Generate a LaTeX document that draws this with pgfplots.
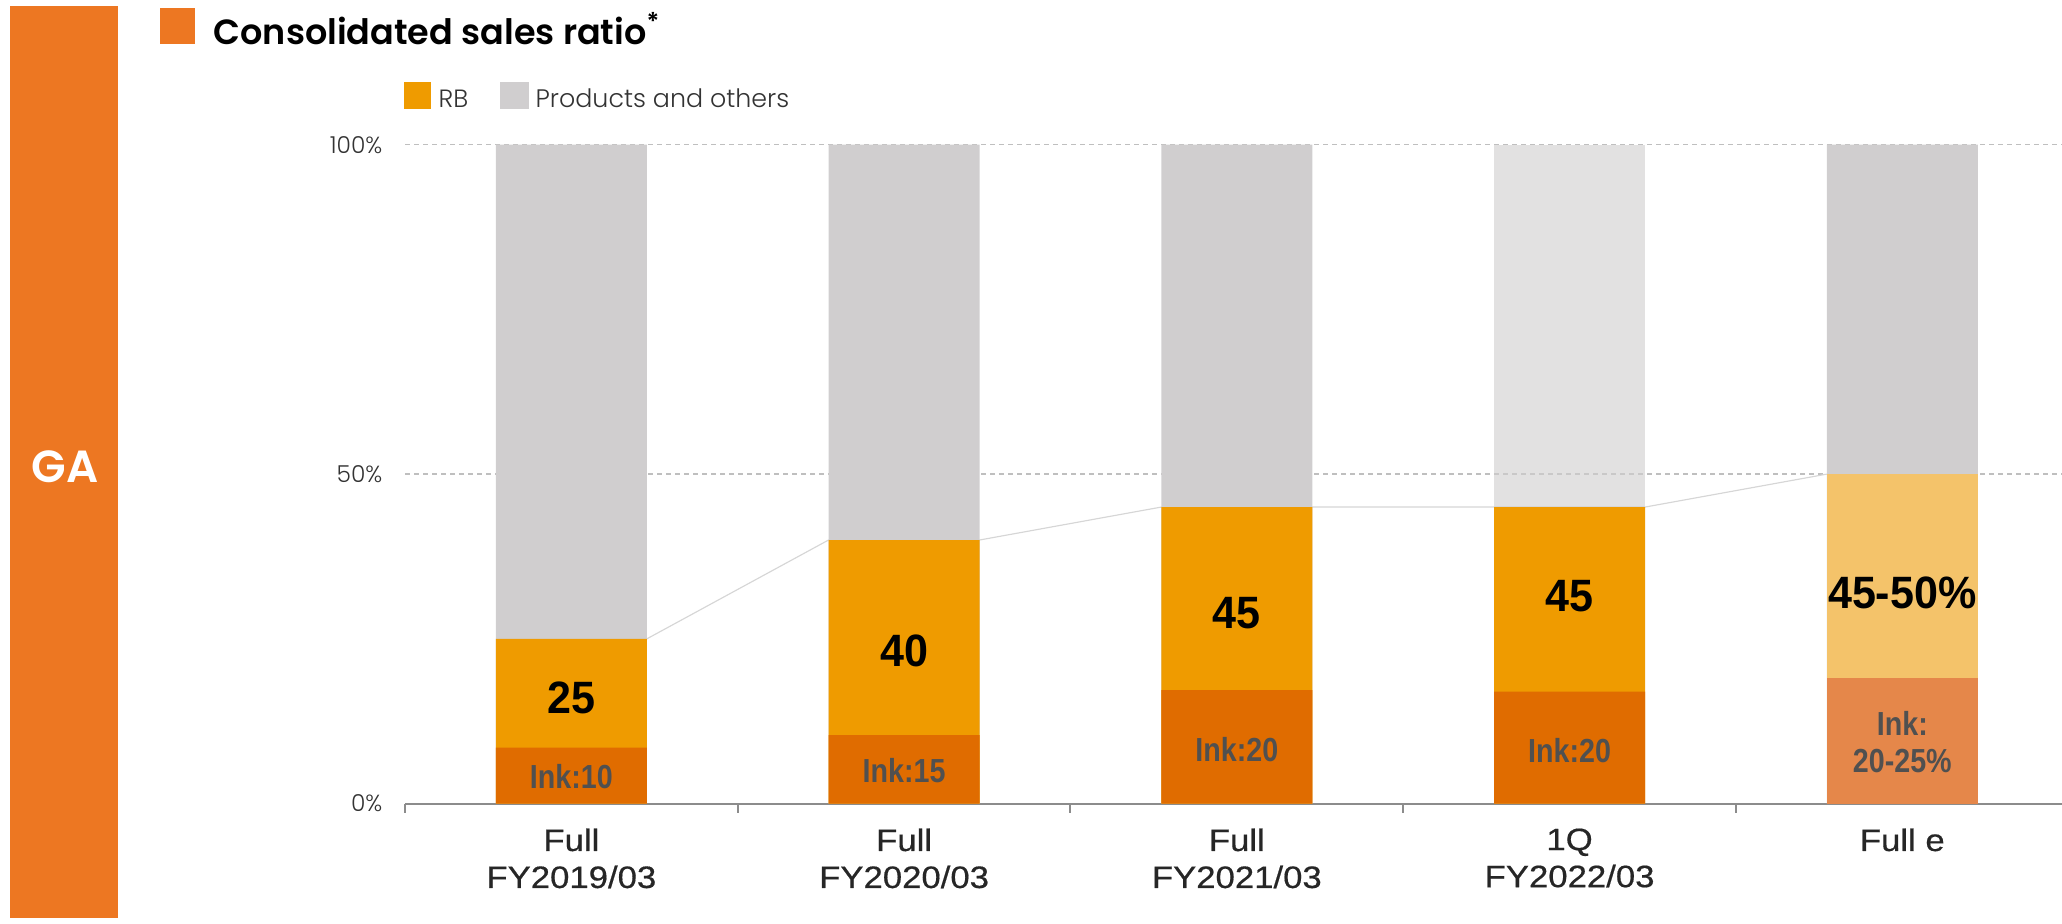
\documentclass[border=0pt]{standalone}
\usepackage{fontspec}
\setmainfont{Liberation Sans}
\newfontfamily\pop{Poppins}
\newfontfamily\popsb{Poppins SemiBold}
\newfontfamily\poplight{Poppins Light}
\newfontfamily\narrow[FakeStretch=0.86]{Liberation Sans}
\newfontfamily\narrowbig[FakeStretch=0.95]{Liberation Sans}
\newfontfamily\wide[FakeStretch=1.12,FakeBold=0.5]{Liberation Sans}
\usepackage{pgfplots}
\pgfplotsset{compat=1.18}
\definecolor{side}{HTML}{ED7722}
\definecolor{ink}{HTML}{E06C00}
\definecolor{rb}{HTML}{EF9B00}
\definecolor{prod}{HTML}{D0CECF}
\definecolor{inkL}{HTML}{E5874A}
\definecolor{rbL}{HTML}{F4C36A}
\definecolor{conn}{HTML}{D6D6D6}
\definecolor{gridc}{HTML}{BFBFBF}
\definecolor{axc}{HTML}{8C8C8C}
\definecolor{txt}{HTML}{333333}
\definecolor{ticktxt}{HTML}{262626}
\definecolor{inktxt}{HTML}{505050}
\begin{document}
\begin{tikzpicture}
\useasboundingbox (0,0) rectangle (618.6pt,-276.9pt);
\begin{scope}[x=0.3pt,y=-0.3pt]
\fill[side] (10,6) rectangle (118,918);
\node[text=white,font=\popsb\fontsize{13.5}{13.5}\selectfont] at (65,467) {GA};
\fill[side] (160,8) rectangle (195,44);
\node[anchor=base west, inner sep=0pt, font=\popsb\fontsize{10.5}{10.5}\selectfont] at (213,44) {Consolidated sales ratio\textsuperscript{*}};
\fill[rb] (404,82) rectangle (431,109);
\node[anchor=base west, inner sep=0pt, text=txt, font=\poplight\fontsize{7.5}{7.5}\selectfont] at (438,107) {RB};
\fill[prod] (500,82) rectangle (529,109);
\node[anchor=base west, inner sep=0pt, text=txt, font=\poplight\fontsize{7.6}{7.6}\selectfont] at (535,107) {Products and others};
\end{scope}
\begin{axis}[
  at={(121.5pt,-241.05pt)}, anchor=south west,
  scale only axis, width=497.1pt, height=197.64pt,
  xmin=-0.5, xmax=4.48, ymin=0, ymax=100,
  clip=false,
  axis x line*=bottom, axis y line*=left,
  y axis line style={draw=none},
  x axis line style={draw=axc, line width=0.6pt},
  xtick={0,1,2,3,4},
  xticklabels={{Full\\FY2019/03},{Full\\FY2020/03},{Full\\FY2021/03},{1Q\\FY2022/03},{Full e}},
  minor xtick={-0.5,0.5,1.5,2.5,3.5},
  major tick length=0pt, minor tick length=2.7pt, tick align=outside,
  minor tick style={draw=axc, line width=0.6pt},
  xticklabel style={align=center, inner sep=0pt, yshift=-7.3pt, text=ticktxt, font=\wide\fontsize{9.3}{11.1}\selectfont},
  ytick={0,50,100}, yticklabels={0\%,50\%,100\%},
  yticklabel style={inner sep=0pt, xshift=-6.6pt, text=txt, font=\poplight\fontsize{7}{7}\selectfont},
  ymajorgrids, major grid style={draw=gridc, line width=0.45pt, dash pattern=on 1.5pt off 1.2pt},
]
\addplot[draw=conn, line width=0.35pt, mark=none] coordinates {(0.227,25)(0.773,40)(1.227,40)(1.773,45)(2.227,45)(2.773,45)(3.227,45)(3.773,50)};
\addplot[ybar, bar width=45.3pt, bar shift=0pt, fill=prod, draw=none] coordinates {(0,100)(1,100)(2,100)(4,100)};
\addplot[ybar, bar width=45.3pt, bar shift=0pt, fill=prod, fill opacity=0.62, draw=none] coordinates {(3,100)};
\addplot[ybar, bar width=45.3pt, bar shift=0pt, fill=rb, draw=none] coordinates {(0,25)(1,40)(2,45)(3,45)};
\addplot[ybar, bar width=45.3pt, bar shift=0pt, fill=rbL, draw=none] coordinates {(4,50)};
\addplot[ybar, bar width=45.3pt, bar shift=0pt, fill=ink, draw=none] coordinates {(0,8.5)(1,10.4)(2,17.2)(3,17.0)};
\addplot[ybar, bar width=45.3pt, bar shift=0pt, fill=inkL, draw=none] coordinates {(4,19.1)};
\node[font=\narrowbig\bfseries\fontsize{13.6}{13.6}\selectfont] at (axis cs:0,16) {25};
\node[font=\narrowbig\bfseries\fontsize{13.6}{13.6}\selectfont] at (axis cs:1,23.2) {40};
\node[font=\narrowbig\bfseries\fontsize{13.6}{13.6}\selectfont] at (axis cs:2,28.9) {45};
\node[font=\narrowbig\bfseries\fontsize{13.6}{13.6}\selectfont] at (axis cs:3,31.5) {45};
\node[font=\narrowbig\bfseries\fontsize{13.6}{13.6}\selectfont] at (axis cs:4,32) {45-50\%};
\node[text=inktxt, font=\narrow\bfseries\fontsize{10}{10}\selectfont] at (axis cs:0,4.1) {Ink:10};
\node[text=inktxt, font=\narrow\bfseries\fontsize{10}{10}\selectfont] at (axis cs:1,5.0) {Ink:15};
\node[text=inktxt, font=\narrow\bfseries\fontsize{10}{10}\selectfont] at (axis cs:2,8.2) {Ink:20};
\node[text=inktxt, font=\narrow\bfseries\fontsize{10}{10}\selectfont] at (axis cs:3,8.1) {Ink:20};
\node[text=inktxt, align=center, font=\narrow\bfseries\fontsize{10}{10.9}\selectfont] at (axis cs:4,9.35) {Ink:\\20-25\%};
\end{axis}
\end{tikzpicture}
\end{document}
